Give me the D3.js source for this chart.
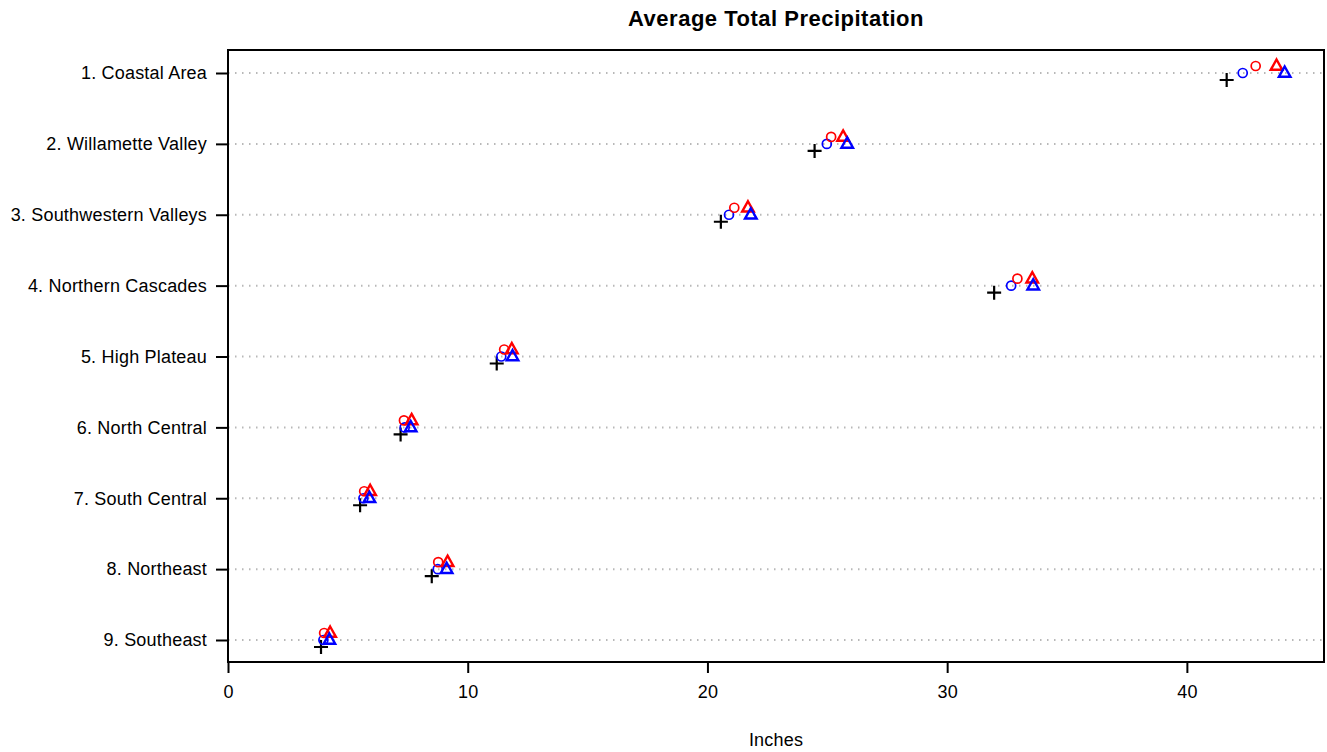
<!DOCTYPE html>
<html>
<head>
<meta charset="utf-8">
<script src="https://cdn.jsdelivr.net/npm/d3@7"></script>
<style>
  body { margin: 0; background: #fff; }
  text { font-family: "Liberation Sans", Arial, sans-serif; }
</style>
</head>
<body>
<div class="chart"></div>
<script>
const WIDTH = 1327
const HEIGHT = 752
const MARGIN = {top: 50, right: 3, bottom: 90, left: 228}

const REGIONS = ["1. Coastal Area", "2. Willamette Valley", "3. Southwestern Valleys", "4. Northern Cascades",
  "5. High Plateau", "6. North Central", "7. South Central", "8. Northeast", "9. Southeast"]

// one array per series, same order as REGIONS
const PLUS_BLACK = [41.66, 24.47, 20.56, 31.96, 11.21, 7.20, 5.51, 8.50, 3.88]
const CIRCLE_BLUE = [42.33, 24.98, 20.90, 32.67, 11.40, 7.37, 5.65, 8.75, 3.98]
const CIRCLE_RED = [42.87, 25.16, 21.12, 32.93, 11.52, 7.34, 5.68, 8.77, 4.01]
const TRIANGLE_RED = [43.74, 25.66, 21.69, 33.55, 11.84, 7.66, 5.93, 9.16, 4.26]
const TRIANGLE_BLUE = [44.08, 25.83, 21.81, 33.59, 11.87, 7.62, 5.90, 9.12, 4.23]

const X_TICKS = [0, 10, 20, 30, 40]
const X_MAX = 45.72

const SERIES = [
  {values: PLUS_BLACK, shape: "plus", color: "#000", dy: 7},
  {values: CIRCLE_BLUE, shape: "circle", color: "#0000ff", dy: 0},
  {values: CIRCLE_RED, shape: "circle", color: "#ff0000", dy: -7},
  {values: TRIANGLE_RED, shape: "triangle", color: "#ff0000", dy: -7},
  {values: TRIANGLE_BLUE, shape: "triangle", color: "#0000ff", dy: 0}
]

const svg = d3.select(".chart").append("svg").attr("width", WIDTH).attr("height", HEIGHT)

const x = d3.scaleLinear().domain([0, X_MAX]).range([MARGIN.left, WIDTH - MARGIN.right])
const y = d3.scalePoint().domain(REGIONS).range([73, 640])

// Dotted guide lines
svg.selectAll(".guide").data(REGIONS).enter().append("line")
  .attr("x1", MARGIN.left).attr("x2", WIDTH - MARGIN.right)
  .attr("y1", d => y(d)).attr("y2", d => y(d))
  .attr("stroke", "#b8b8b8").attr("stroke-width", 2)
  .attr("stroke-dasharray", "1.5,5.5")

// Points
SERIES.forEach(s => {
  const g = svg.append("g")
  s.values.forEach((v, i) => {
    const cx = x(v), cy = y(REGIONS[i]) + s.dy
    if (s.shape == "circle") {
      g.append("circle").attr("cx", cx).attr("cy", cy).attr("r", 4.5)
        .attr("fill", "none").attr("stroke", s.color).attr("stroke-width", 1.7)
    } else if (s.shape == "triangle") {
      g.append("path").attr("d", `M${cx},${cy - 6.5} L${cx + 5.8},${cy + 3.8} L${cx - 5.8},${cy + 3.8} Z`)
        .attr("fill", "none").attr("stroke", s.color).attr("stroke-width", 2.4).attr("stroke-linejoin", "miter")
    } else {
      g.append("path").attr("d", `M${cx - 7},${cy} H${cx + 7} M${cx},${cy - 7} V${cy + 7}`)
        .attr("stroke", s.color).attr("stroke-width", 2.2)
    }
  })
})

// Box
svg.append("rect")
  .attr("x", MARGIN.left).attr("y", MARGIN.top)
  .attr("width", WIDTH - MARGIN.right - MARGIN.left).attr("height", 662 - MARGIN.top)
  .attr("fill", "none").attr("stroke", "#000").attr("stroke-width", 2)

// X-Axis
const xAxis = svg.append("g").attr("transform", "translate(0, 662)")
  .call(d3.axisBottom(x).tickValues(X_TICKS).tickSize(11).tickPadding(12).tickFormat(d3.format("d")))
xAxis.select(".domain").remove()
xAxis.selectAll("line").attr("stroke-width", 2)
xAxis.selectAll("text").attr("font-size", 18).attr("fill", "#000").attr("letter-spacing", 0.2)
  .attr("font-family", "'Liberation Sans', Arial, sans-serif")

// Y-Axis
const yAxis = svg.append("g").attr("transform", `translate(${MARGIN.left}, 0)`)
  .call(d3.axisLeft(y).tickSize(12).tickPadding(9))
yAxis.select(".domain").remove()
yAxis.selectAll("line").attr("stroke-width", 2)
yAxis.selectAll("text").attr("font-size", 18).attr("fill", "#000").attr("letter-spacing", 0.2)
  .attr("font-family", "'Liberation Sans', Arial, sans-serif")

// Title and axis label
svg.append("text").attr("x", (MARGIN.left + WIDTH - MARGIN.right) / 2).attr("y", 26)
  .attr("text-anchor", "middle").attr("font-size", 22).attr("font-weight", "bold").attr("letter-spacing", 0.5)
  .text("Average Total Precipitation")

svg.append("text").attr("x", (MARGIN.left + WIDTH - MARGIN.right) / 2).attr("y", 746)
  .attr("text-anchor", "middle").attr("font-size", 18).attr("letter-spacing", 0.2)
  .text("Inches")
</script>
</body>
</html>
